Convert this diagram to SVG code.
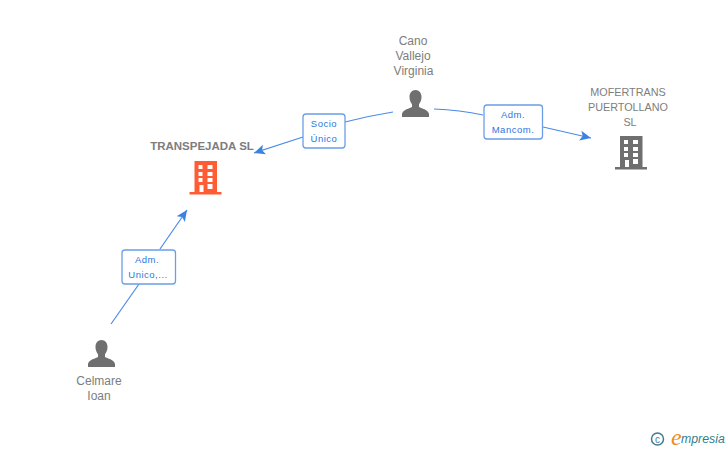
<svg xmlns="http://www.w3.org/2000/svg" width="728" height="450" viewBox="0 0 728 450">
<style>
text{font-family:"Liberation Sans",Arial,sans-serif}
.lbl{font-size:12px;fill:#7d7d7d;text-anchor:middle}
.co{font-size:10.800px;fill:#7d7d7d;text-anchor:middle}
.lt{font-size:9.500px;fill:#2a76e0;text-anchor:middle;letter-spacing:.5px}
.box{fill:#fff;stroke:#6a9fe8;stroke-width:1.300}
.edge{fill:none;stroke:#4a8ae6;stroke-width:1.200}
.person{fill:#6f6f6f}
</style>
<defs>
<marker id="arrow" markerUnits="userSpaceOnUse" markerWidth="12" markerHeight="12" refX="11" refY="6" orient="auto"><path d="M0 1 L11 6 L0 11 L2.500 6Z" fill="#3b82e4"/></marker>
<path id="man" d="M13.500 0C9.800 0 7.500 3 7.500 7C7.500 10 8.600 12.500 10 14.200V17C8 18.600 0.600 19.400 0 24V27H27V24C26.400 19.400 19 18.600 17 17V14.200C18.400 12.500 19.500 10 19.500 7C19.500 3 17.200 0 13.500 0Z"/>
<path id="bld" fill-rule="evenodd" d="M5 0H27.500V31H32V33.500H0V31H5ZM9 4V8H13V4ZM18 4V8H23V4ZM9 11V15H13V11ZM18 11V15H23V11ZM9 17V21H13V17ZM18 17V21H23V17ZM10 24V31H14V24ZM18 23V28H23V23Z"/>
</defs>
<g id="connectors">
<path class="edge" d="M393 112Q368 116 345 122"/>
<path class="edge" marker-end="url(#arrow)" d="M303 137L254 153"/>
<path class="edge" d="M434 109Q460 110 483 115"/>
<path class="edge" marker-end="url(#arrow)" d="M543 127L591 138"/>
<path class="edge" d="M111 324L139 284"/>
<path class="edge" marker-end="url(#arrow)" d="M160 249L187 210"/>
</g>
<g id="edge-label-socio"><rect class="box" x="303" y="114" width="42" height="34" rx="3"/><text class="lt" x="324" y="127">Socio</text><text class="lt" x="324" y="142">Único</text></g>
<g id="edge-label-mancom"><rect class="box" x="484" y="105" width="58.500" height="34" rx="3"/><text class="lt" x="513" y="118">Adm.</text><text class="lt" x="513" y="133">Mancom.</text></g>
<g id="edge-label-unico"><rect class="box" x="122" y="250" width="53.500" height="34" rx="3"/><text class="lt" x="147" y="263">Adm.</text><text class="lt" x="148" y="278">Unico,...</text></g>
<g id="node-transpejada"><text x="202" y="150" font-size="11.500" font-weight="bold" fill="#7d7d7d" text-anchor="middle">TRANSPEJADA SL</text><use href="#bld" x="189.500" y="161" fill="#ff5c33"/></g>
<g id="node-cano"><text class="lbl" x="413" y="45">Cano</text><text class="lbl" x="413" y="60">Vallejo</text><text class="lbl" x="413.500" y="75">Virginia</text><use href="#man" class="person" x="402" y="90"/></g>
<g id="node-mofertrans"><text class="co" x="628" y="96">MOFERTRANS</text><text class="co" x="628" y="111">PUERTOLLANO</text><text class="co" x="630" y="126">SL</text><use href="#bld" x="615" y="136" fill="#6f6f6f"/></g>
<g id="node-celmare"><use href="#man" class="person" x="88" y="340"/><text class="lbl" x="99" y="385">Celmare</text><text class="lbl" x="99" y="400">Ioan</text></g>
<g id="logo"><circle cx="657.500" cy="439" r="6" fill="none" stroke="#3f7f94" stroke-width="1.500"/><text x="657.500" y="442.500" font-size="10" fill="#3f7f94" text-anchor="middle">c</text><text x="671" y="445" font-size="24" font-style="italic" fill="#f08a1d" style="font-family:'Liberation Serif',serif">e</text><text x="681" y="443" font-size="12.300" font-style="italic" fill="#2f7f8f">mpresia</text></g>
</svg>
